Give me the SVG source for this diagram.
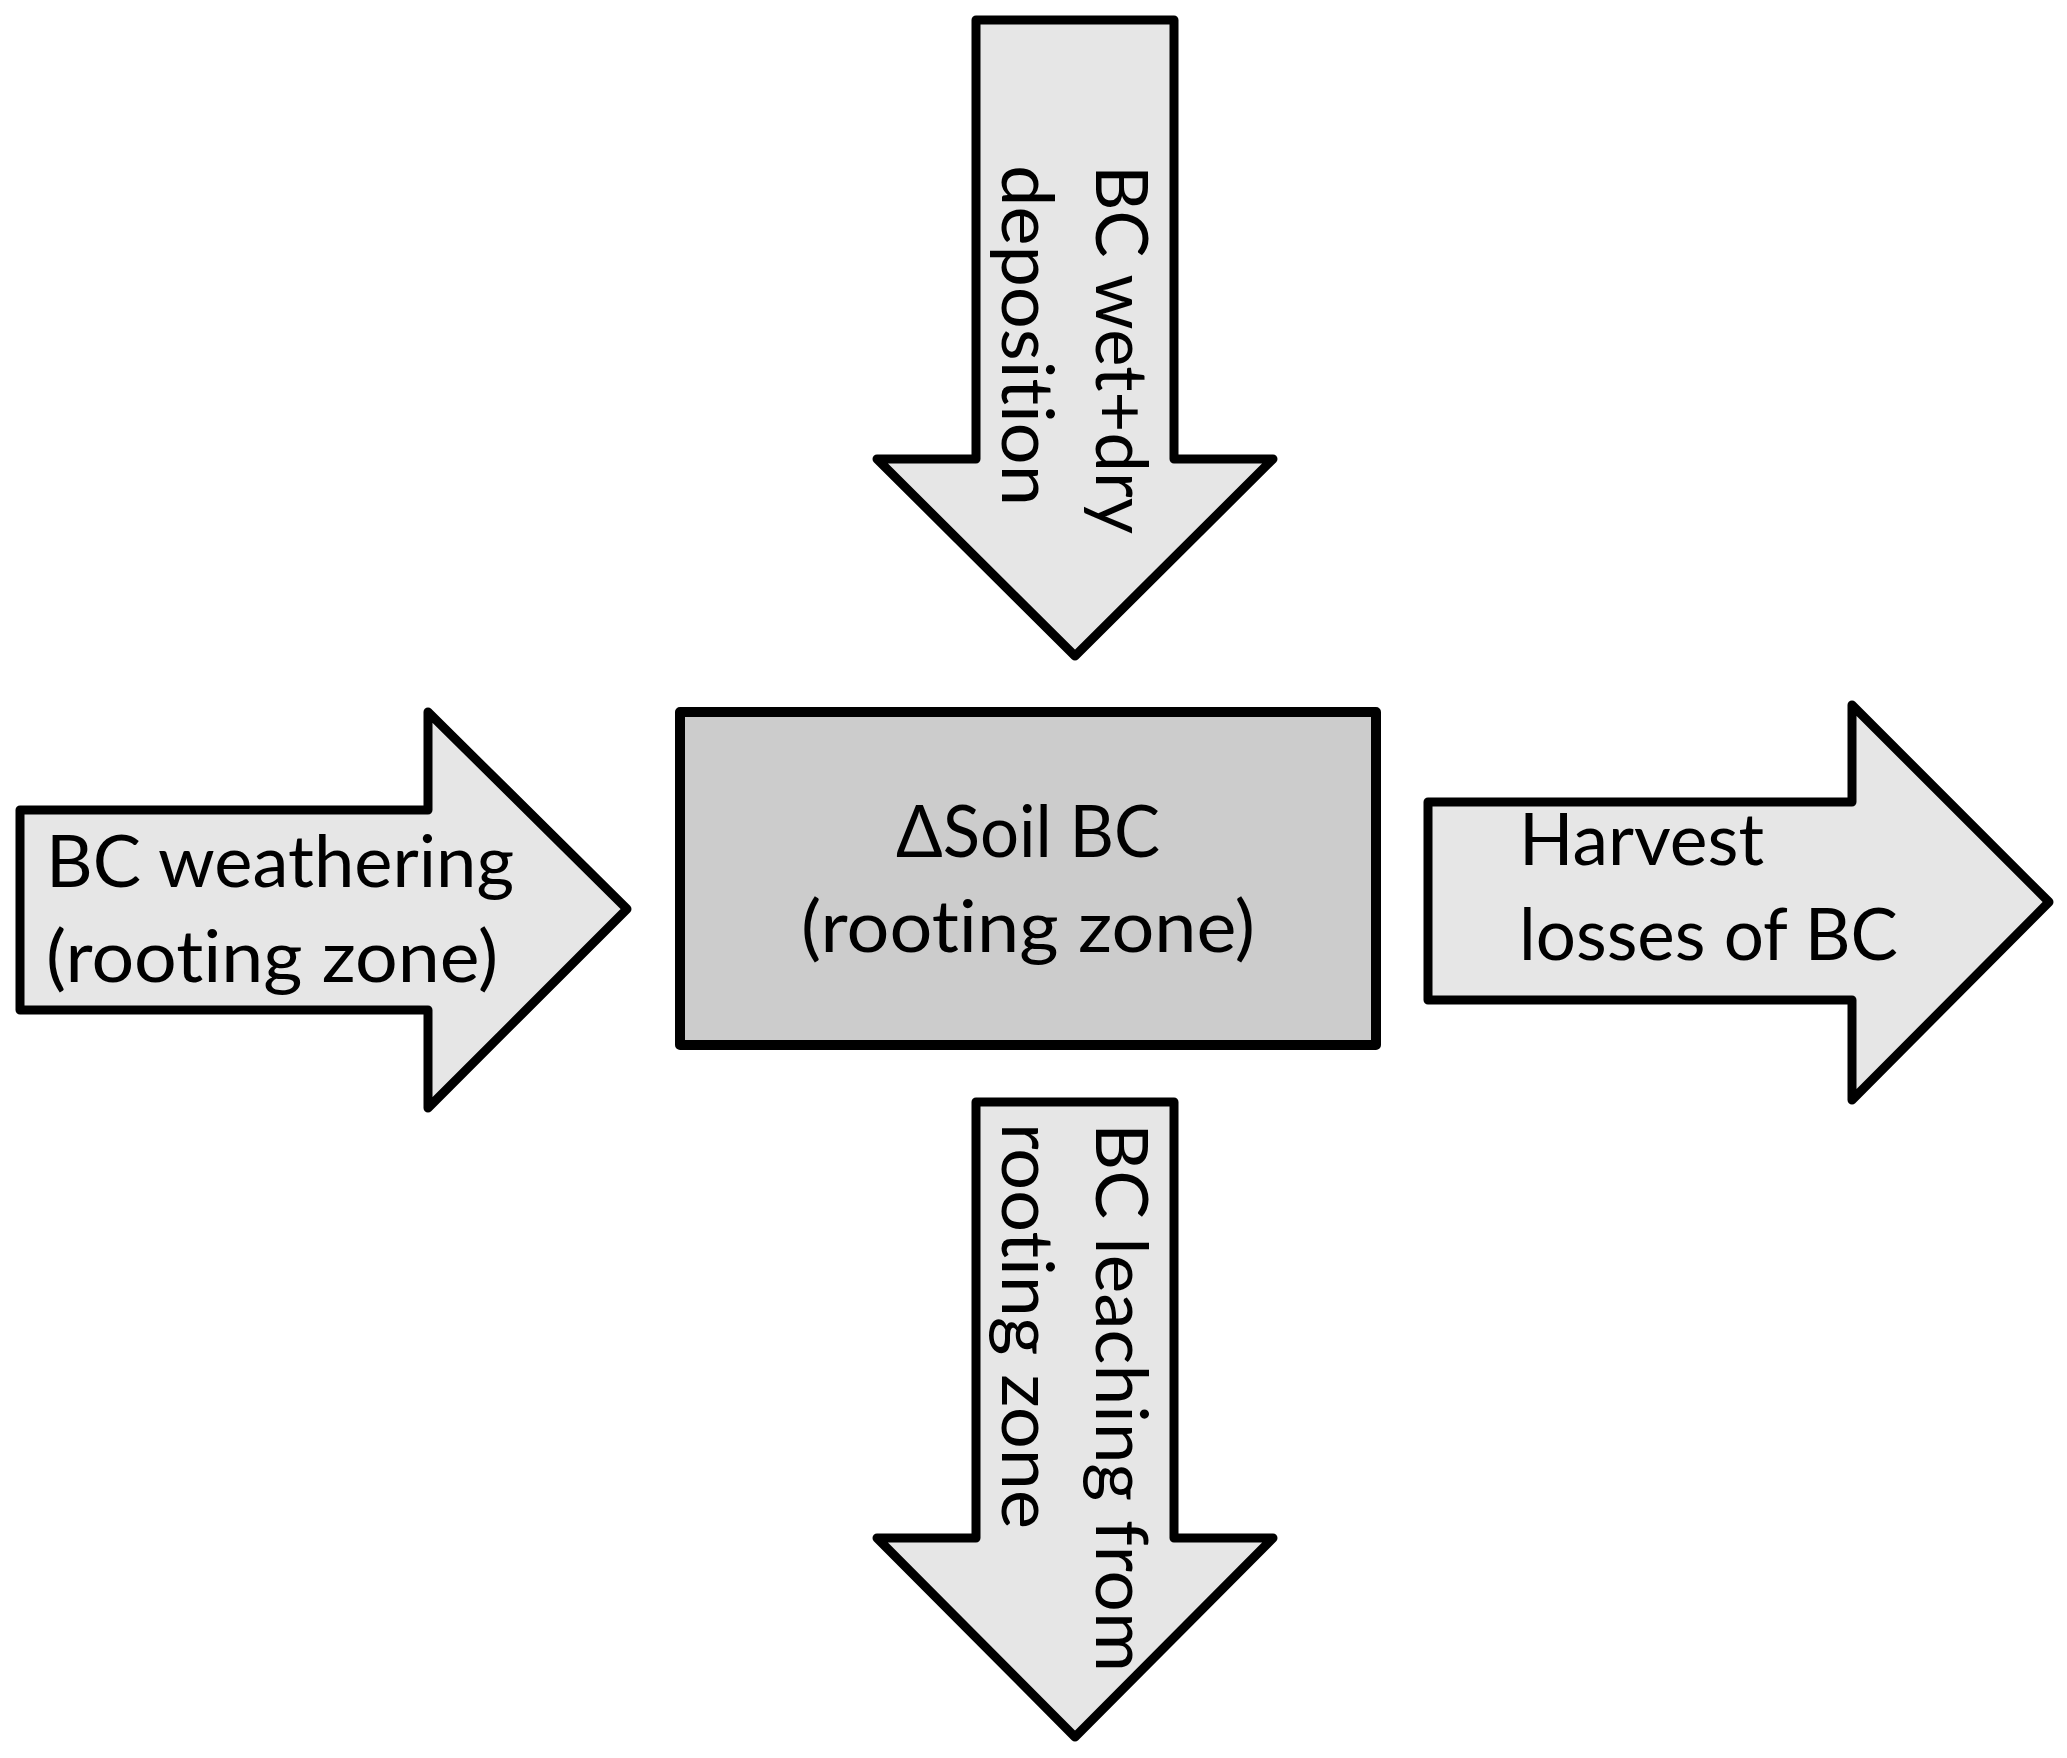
<svg xmlns="http://www.w3.org/2000/svg" width="2067" height="1758" viewBox="0 0 2067 1758">
  <style>
    .arrow { fill: #e6e6e6; stroke: #000; stroke-width: 9; stroke-linejoin: round; }
    .box { fill: #cccccc; stroke: #000; stroke-width: 10; stroke-linejoin: round; }
    .lbl { font-family: Lato, "Open Sans", "Noto Sans", sans-serif; font-size: 71px; fill: #000; font-variant-ligatures: none; font-feature-settings: "liga" 0, "clig" 0; }
  </style>
  <rect x="0" y="0" width="2067" height="1758" fill="#ffffff"/>
  <g id="connectors">
    <g id="arrow-deposition">
      <polygon class="arrow" points="976,20 1174,20 1174,459 1273,459 1075,656 877,459 976,459"/>
      <text class="lbl" transform="translate(1096,165) rotate(90)" textLength="369" lengthAdjust="spacingAndGlyphs">BC wet+dry</text>
      <text class="lbl" transform="translate(1002,165) rotate(90)" textLength="341" lengthAdjust="spacingAndGlyphs">deposition</text>
    </g>
    <g id="arrow-weathering">
      <polygon class="arrow" points="20,810 428,810 428,712 627,909 428,1108 428,1010 20,1010"/>
      <text class="lbl" x="46" y="887" textLength="468" lengthAdjust="spacingAndGlyphs">BC weathering</text>
      <text class="lbl" x="46" y="982" textLength="452" lengthAdjust="spacingAndGlyphs">(rooting zone)</text>
    </g>
    <g id="arrow-harvest">
      <polygon class="arrow" points="1428,802 1852,802 1852,705 2049,902 1852,1100 1852,1000 1428,1000"/>
      <text class="lbl" x="1519" y="865" textLength="245" lengthAdjust="spacingAndGlyphs">Harvest</text>
      <text class="lbl" x="1519" y="960" textLength="379" lengthAdjust="spacingAndGlyphs">losses of BC</text>
    </g>
    <g id="arrow-leaching">
      <polygon class="arrow" points="976,1102 1174,1102 1174,1538 1273,1538 1075,1737 877,1538 976,1538"/>
      <text class="lbl" transform="translate(1096,1123) rotate(90)" textLength="549" lengthAdjust="spacingAndGlyphs">BC leaching from</text>
      <text class="lbl" transform="translate(1002,1123) rotate(90)" textLength="406" lengthAdjust="spacingAndGlyphs">rooting zone</text>
    </g>
  </g>
  <g id="node-soil-bc">
    <rect class="box" x="680" y="712" width="696" height="333"/>
    <text class="lbl" x="1028" y="857" text-anchor="middle" textLength="264" lengthAdjust="spacingAndGlyphs">ΔSoil BC</text>
    <text class="lbl" x="1028" y="952" text-anchor="middle" textLength="454" lengthAdjust="spacingAndGlyphs">(rooting zone)</text>
  </g>
</svg>
